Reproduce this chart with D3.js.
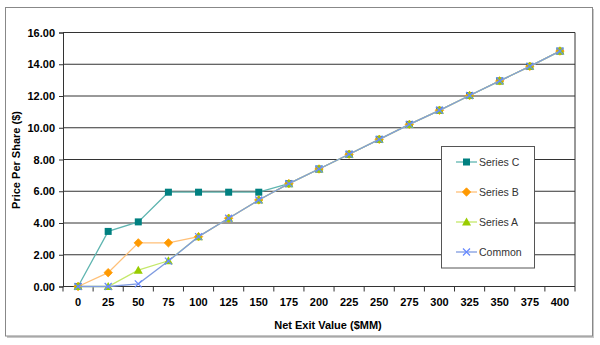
<!DOCTYPE html>
<html><head><meta charset="utf-8">
<script src="https://cdn.jsdelivr.net/npm/d3@7"></script>
<style>body{margin:0;background:#fff}svg{display:block}</style>
</head><body>
<svg id="c" width="600" height="345"></svg>
<script>
const categories = [0,25,50,75,100,125,150,175,200,225,250,275,300,325,350,375,400];
const seriesC = [0,3.47,4.07,5.94,5.94,5.94,5.94,6.48,7.40,8.33,9.27,10.21,11.10,12.03,12.95,13.87,14.83];
const seriesB = [0,0.87,2.75,2.75,3.14,4.30,5.45,6.48,7.40,8.33,9.27,10.21,11.10,12.03,12.95,13.87,14.83];
const seriesA = [0,0,1.03,1.62,3.14,4.30,5.45,6.48,7.40,8.33,9.27,10.21,11.10,12.03,12.95,13.87,14.83];
const common  = [0,0,0.17,1.60,3.14,4.30,5.45,6.48,7.40,8.33,9.27,10.21,11.10,12.03,12.95,13.87,14.83];
const yTicks = [0,2,4,6,8,10,12,14,16];
const seriesNames = ["Series C","Series B","Series A","Common"];

const svg = d3.select("#c");
const L=63, R=575, T=32.5, B=286.5;

// outer border
svg.append("rect").attr("x",7).attr("y",9).attr("width",587).attr("height",329).attr("fill","#c8c8c8");
svg.append("rect").attr("x",5.5).attr("y",7.5).attr("width",587).attr("height",328.5)
  .attr("fill","#fff").attr("stroke","#888").attr("stroke-width",1);

const x = d3.scaleBand().domain(categories).range([L,R]);
const y = d3.scaleLinear().domain([0,16]).range([B,T]);

// gridlines
svg.append("g").selectAll("line").data(yTicks.filter(d=>d>0)).join("line")
  .attr("x1",L).attr("x2",R).attr("y1",d=>y(d)).attr("y2",d=>y(d))
  .attr("stroke","#333").attr("stroke-width",1);
svg.append("line").attr("x1",R).attr("x2",R).attr("y1",T).attr("y2",B).attr("stroke","#333");

// y axis
const yAxis = d3.axisLeft(y).tickValues(yTicks).tickFormat(d3.format(".2f")).tickSize(4).tickPadding(4);
const gy = svg.append("g").attr("transform",`translate(${L},0)`).call(yAxis);
gy.select(".domain").attr("stroke","#333");
gy.selectAll(".tick line").attr("stroke","#333");
gy.selectAll("text").attr("font-family","Liberation Sans, Arial, sans-serif").attr("font-weight","bold")
  .attr("font-size",11).attr("fill","#000");

// x axis: ticks between categories
const gx = svg.append("g").attr("transform",`translate(0,${B})`);
gx.append("line").attr("x1",L).attr("x2",R).attr("y1",0).attr("y2",0).attr("stroke","#333");
const bounds = categories.map(c=>x(c)).concat([R]);
gx.selectAll("line.t").data(bounds).join("line").attr("class","t")
  .attr("x1",d=>d).attr("x2",d=>d).attr("y1",0).attr("y2",5).attr("stroke","#333");
gx.selectAll("text").data(categories).join("text")
  .attr("x",d=>x(d)+x.bandwidth()/2).attr("y",19).attr("text-anchor","middle")
  .attr("font-family","Liberation Sans, Arial, sans-serif").attr("font-weight","bold")
  .attr("font-size",11).attr("fill","#000").text(d=>d);

// titles
svg.append("text").attr("x",328).attr("y",329).attr("text-anchor","middle")
  .attr("font-family","Liberation Sans, Arial, sans-serif").attr("font-weight","bold").attr("font-size",11)
  .text("Net Exit Value ($MM)");
svg.append("text").attr("transform","translate(20,160) rotate(-90)").attr("text-anchor","middle")
  .attr("font-family","Liberation Sans, Arial, sans-serif").attr("font-weight","bold").attr("font-size",11)
  .text("Price Per Share ($)");

const cx = c => x(c)+x.bandwidth()/2;
const styles = [
  {data:seriesC, line:"#5fb5b0", mark:"#008080", shape:"square"},
  {data:seriesB, line:"#ffc078", mark:"#ff9900", shape:"diamond"},
  {data:seriesA, line:"#c4e86a", mark:"#99cc00", shape:"triangle"},
  {data:common,  line:"#7f9be0", mark:"#6688ff", shape:"x"}
];
function drawMarker(g, shape, color, px, py){
  if(shape==="square"){
    g.append("rect").attr("x",px-3.5).attr("y",py-3.5).attr("width",7).attr("height",7).attr("fill",color);
  } else if(shape==="diamond"){
    g.append("path").attr("d",`M${px},${py-4.2}L${px+4.2},${py}L${px},${py+4.2}L${px-4.2},${py}Z`)
      .attr("fill",color).attr("stroke",color).attr("stroke-width",0.8).attr("stroke-linejoin","round");
  } else if(shape==="triangle"){
    g.append("path").attr("d",`M${px},${py-4.5}L${px+4.5},${py+3.5}L${px-4.5},${py+3.5}Z`).attr("fill",color);
  } else {
    g.append("path").attr("d",`M${px-3.5},${py-3.5}L${px+3.5},${py+3.5}M${px+3.5},${py-3.5}L${px-3.5},${py+3.5}`)
      .attr("stroke",color).attr("stroke-width",1.2).attr("fill","none");
  }
}
const line = d3.line().x((d,i)=>cx(categories[i])).y(d=>y(d));
styles.forEach(s=>{
  const g = svg.append("g");
  g.append("path").attr("d",line(s.data)).attr("fill","none").attr("stroke",s.line).attr("stroke-width",1.3);
  s.data.forEach((v,i)=>drawMarker(g,s.shape,s.mark,cx(categories[i]),y(v)));
});

// legend
const lg = svg.append("g");
lg.append("rect").attr("x",441.5).attr("y",146.5).attr("width",93).attr("height",121.5)
  .attr("fill","#fff").attr("stroke","#555").attr("stroke-width",1);
styles.forEach((s,i)=>{
  const ly = 162 + i*30;
  lg.append("line").attr("x1",456).attr("x2",477).attr("y1",ly).attr("y2",ly).attr("stroke",s.line).attr("stroke-width",1.3);
  drawMarker(lg,s.shape,s.mark,466.5,ly);
  lg.append("text").attr("x",479).attr("y",ly+3.5).attr("font-family","Liberation Sans, Arial, sans-serif")
    .attr("font-size",10.5).attr("fill","#333").text(seriesNames[i]);
});
</script>
</body></html>
